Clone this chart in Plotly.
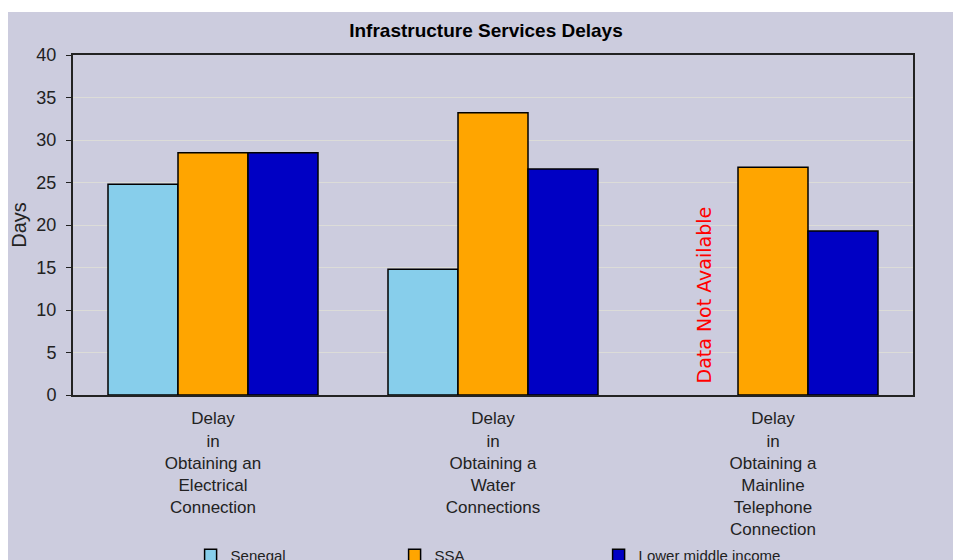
import plotly.graph_objects as go

categories = [
    "Delay<br>in<br>Obtaining an<br>Electrical<br>Connection",
    "Delay<br>in<br>Obtaining a<br>Water<br>Connections",
    "Delay<br>in<br>Obtaining a<br>Mainline<br>Telephone<br>Connection",
]
senegal = [24.8, 14.8, None]
ssa = [28.5, 33.2, 26.8]
lower_middle = [28.5, 26.6, 19.3]

FONT = "Liberation Sans, Arial, sans-serif"
BG = "#CCCCDE"

fig = go.Figure()
fig.add_trace(go.Bar(x=categories, y=senegal, name="Senegal",
                     marker=dict(color="#87CEEB", line=dict(color="black", width=1.5))))
fig.add_trace(go.Bar(x=categories, y=ssa, name="SSA",
                     marker=dict(color="#FFA500", line=dict(color="black", width=1.5))))
fig.add_trace(go.Bar(x=categories, y=lower_middle, name="Lower middle income",
                     marker=dict(color="#0000C4", line=dict(color="black", width=1.5))))

# red note where Senegal has no telephone figure
fig.add_annotation(x=1.75, y=0, xref="x", yref="y", text="Data Not Available",
                   textangle=-90, showarrow=False, yanchor="bottom", yshift=9,
                   font=dict(family="DejaVu Sans, sans-serif", size=19, color="#FF0000"))

# lavender panel, leaving a thin white strip at the top
fig.add_shape(type="rect", xref="paper", yref="paper", x0=-0.1, x1=1.1, y0=-0.7, y1=1.1265,
              fillcolor=BG, line=dict(width=0), layer="below")

# the page is taller than the window so the legend gets cut like the original
fig.update_layout(
    width=961, height=600,
    margin=dict(l=65, r=56, t=47, b=213),
    paper_bgcolor="white", plot_bgcolor=BG,
    font=dict(family=FONT, size=16, color="#222222"),
    title=dict(text="<b>Infrastructure Services Delays</b>", x=0.4974, xanchor="center",
               y=0.9633, yanchor="middle", font=dict(family=FONT, size=19, color="black")),
    barmode="group", bargap=0.25, bargroupgap=0,
    showlegend=True,
    legend=dict(orientation="h", x=0.14, y=-0.4235, xanchor="left", yanchor="top",
                entrywidth=159, entrywidthmode="pixels", bgcolor="rgba(0,0,0,0)",
                font=dict(family=FONT, size=15)),
)
fig.update_xaxes(showline=True, linecolor="#222222", linewidth=2, mirror=True,
                 ticks="", tickangle=0, tickfont=dict(size=17), ticklabelstandoff=7,
                 automargin=False)
fig.update_yaxes(range=[0, 40], dtick=5, showline=True, linecolor="#222222", linewidth=2,
                 mirror=True, ticks="outside", ticklen=5, tickcolor="#222222",
                 showgrid=True, gridcolor="#DCDCD8", gridwidth=1, zeroline=False,
                 title=dict(text="Days", standoff=6, font=dict(size=20)),
                 tickfont=dict(size=18), ticklabelstandoff=6, automargin=False)

fig.write_html("out.html")
